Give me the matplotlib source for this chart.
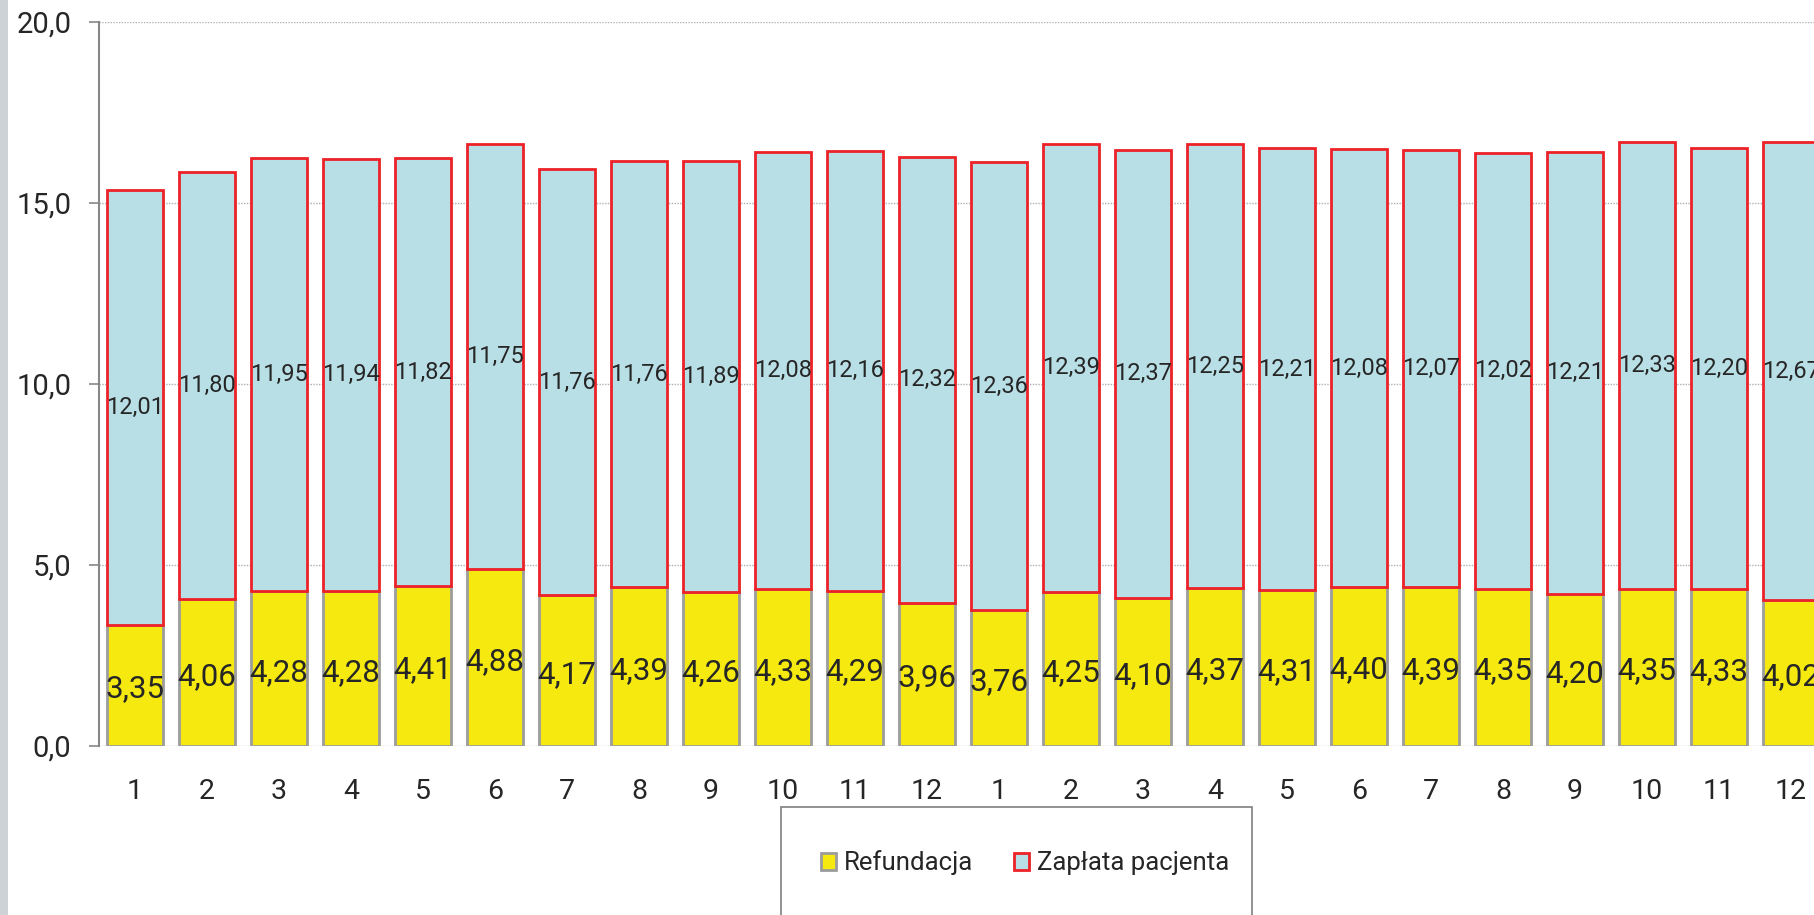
import matplotlib.pyplot as plt
import numpy as np
from matplotlib.patches import Rectangle

plt.rcParams['font.family'] = ['Roboto', 'DejaVu Sans']
plt.rcParams['text.color'] = '#262626'

# miesiące dwóch kolejnych lat
miesiace = [str(m) for m in range(1, 13)] * 2
refundacja = [3.35, 4.06, 4.28, 4.28, 4.41, 4.88, 4.17, 4.39, 4.26, 4.33, 4.29, 3.96,
              3.76, 4.25, 4.10, 4.37, 4.31, 4.40, 4.39, 4.35, 4.20, 4.35, 4.33, 4.02]
zaplata = [12.01, 11.80, 11.95, 11.94, 11.82, 11.75, 11.76, 11.76, 11.89, 12.08, 12.16, 12.32,
           12.36, 12.39, 12.37, 12.25, 12.21, 12.08, 12.07, 12.02, 12.21, 12.33, 12.20, 12.67]
y_ticks = [0, 5, 10, 15, 20]


def fmt(v, n):
    return f"{v:.{n}f}".replace('.', ',')


fig = plt.figure(figsize=(18.14, 9.15), dpi=100)
# szary pasek z lewej strony
fig.patches.append(Rectangle((0, 0), 8 / 1814, 1, transform=fig.transFigure,
                             facecolor='#cdd2d7', edgecolor='none', zorder=0))

ax = fig.add_axes([99 / 1814, 169 / 915, 1728 / 1814, 724 / 915])
x = np.arange(len(miesiace))
b1 = ax.bar(x, refundacja, width=0.78, color='#f5e90f', edgecolor='#9c9c9c',
            linewidth=2, label='Refundacja', zorder=3)
b2 = ax.bar(x, zaplata, width=0.78, bottom=refundacja, color='#b9dfe6',
            edgecolor='#ec2228', linewidth=2, label='Zapłata pacjenta', zorder=3)

for rect, v in zip(b1, refundacja):
    ax.text(rect.get_x() + rect.get_width() / 2, v / 2 - 0.1, fmt(v, 2),
            ha='center', va='center', fontsize=22.5, color='#262626', zorder=4)
for rect, b, v in zip(b2, refundacja, zaplata):
    ax.text(rect.get_x() + rect.get_width() / 2, b + v / 2, fmt(v, 2),
            ha='center', va='center', fontsize=17, color='#262626', zorder=4)

ax.set_xlim(-0.5, len(miesiace) - 0.5)
ax.set_ylim(0, 20)
ax.set_yticks(y_ticks)
ax.set_yticklabels([fmt(t, 1) for t in y_ticks], fontsize=21, color='#262626')
ax.set_xticks(x)
ax.set_xticklabels(miesiace, fontsize=20.5, color='#262626')
ax.tick_params(axis='x', length=0, pad=23)
ax.tick_params(axis='y', length=7, width=1.2, color='#888888', pad=13)
ax.grid(axis='y', linestyle=(0, (1, 1)), color='#b0b0b0', linewidth=1, zorder=0)
for s in ['top', 'right', 'bottom']:
    ax.spines[s].set_visible(False)
ax.spines['left'].set_color('#888888')
ax.spines['left'].set_linewidth(1.5)

# ramka legendy (wychodzi poza dolną krawędź)
fig.patches.append(Rectangle((781 / 1814, -0.05), 471 / 1814, (915 - 807) / 915 + 0.05,
                             transform=fig.transFigure, facecolor='white',
                             edgecolor='#7f7f7f', linewidth=1.2, zorder=1))
fig.legend(handles=[b1, b2], loc='center', bbox_to_anchor=(1025 / 1814, 1 - 863 / 915),
           ncol=2, frameon=False, fontsize=18.5, handlelength=0.6, handleheight=0.6,
           handletextpad=0.3, columnspacing=1.6)

fig.savefig('out.png', dpi=100)
